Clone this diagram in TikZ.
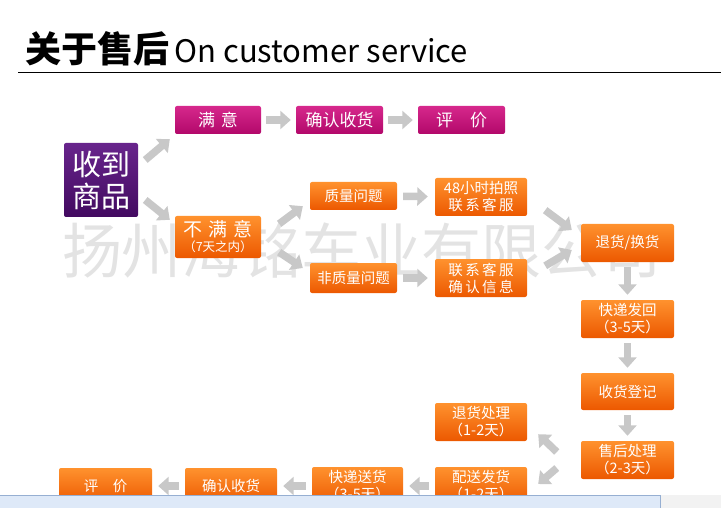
\documentclass[tikz,border=0pt]{standalone}
\usepackage{fontspec}
\setmainfont{Noto Sans CJK SC}
\usetikzlibrary{arrows.meta,calc}

\definecolor{orangeT}{RGB}{255,146,46}
\definecolor{orangeB}{RGB}{236,88,0}
\definecolor{roseT}{RGB}{214,40,140}
\definecolor{roseB}{RGB}{178,8,106}
\definecolor{plumT}{RGB}{104,36,140}
\definecolor{plumB}{RGB}{66,10,96}
\definecolor{arrowgray}{RGB}{200,200,200}
\definecolor{stripblue}{RGB}{222,233,248}
\definecolor{stripline}{RGB}{150,175,210}

\begin{document}
\begin{tikzpicture}[x=1pt, y=-1pt,
  box/.style={rounded corners=2pt, text=white, align=center, inner sep=0pt,
    font=\fontsize{14.5}{17}\selectfont},
  ob/.style={box, top color=orangeT, bottom color=orangeB,
    minimum width=92pt, minimum height=38pt},
  rb/.style={box, top color=roseT, bottom color=roseB,
    minimum width=87pt, minimum height=28pt, font=\fontsize{17}{20}\selectfont},
  blk/.style={draw=arrowgray, line width=7.5pt, -{Triangle[length=10.5pt,width=18pt]}}]
\useasboundingbox (0,0) rectangle (721,508);

% watermark behind everything
\node[text=black!11, font=\fontsize{60}{60}\selectfont] (mark) at (362,251) {扬州海铭车业有限公司};

% title
\node[anchor=base west, inner sep=0pt] (title) at (25,63)
  {\fontsize{36}{36}\selectfont\bfseries 关于售后\fontsize{31}{31}\selectfont\mdseries\,On customer service};
\draw[line width=1pt] (18,73) -- (721,73);

% start
\node[box, top color=plumT, bottom color=plumB, minimum size=74pt,
  font=\fontsize{29}{32}\selectfont] (recv) at (101,180) {收到\\商品};

% satisfied branch
\node[rb, minimum width=86pt] (man)   at (218,120)   {满\,\,意};
\node[rb] (okA)   at (339.5,120) {确认收货};
\node[rb] (rateA) at (461.5,120) {评\quad 价};

% unsatisfied branch
\node[ob, minimum width=86pt, minimum height=42pt] (unsat) at (218,237)
  {{\fontsize{19}{19}\selectfont 不\,\,满\,\,意}\\[-2pt]{\fontsize{12.5}{13}\selectfont （7天之内）}};
\node[ob, minimum width=87pt, minimum height=28pt] (qual) at (353.5,196) {质量问题};
\node[ob] (photo)   at (481,197) {48小时拍照\\联\,系\,客\,服};
\node[ob, minimum width=87pt, minimum height=30pt] (nonq) at (353.5,278) {非质量问题};
\node[ob] (confirm) at (481,278) {联\,系\,客\,服\\确\,认\,信\,息};

% right column
\node[ob, minimum width=93pt] (swap) at (627.5,243) {退货/换货};
\node[ob, minimum width=93pt] (ship) at (627.5,319) {快递发回\\（3-5天）};
\node[ob, minimum width=93pt, minimum height=37pt] (reg) at (627.5,391.5) {收货登记};
\node[ob, minimum width=93pt] (proc) at (627.5,460) {售后处理\\（2-3天）};

% return row
\node[ob] (refund) at (481,422) {退货处理\\（1-2天）};
\node[ob] (resend) at (481,486) {配送发货\\（1-2天）};
\node[ob, minimum width=91pt] (deliv) at (357.5,486) {快递送货\\（3-5天）};
\node[ob, minimum height=36pt] (okB)   at (231,486)   {确认收货};
\node[ob, minimum width=93pt, minimum height=36pt] (rateB) at (105.5,486) {评\quad 价};

% arrows
\draw[blk] ($(recv.east)+(7,-20)$) -- ($(man.south west)+(-5,5)$);
\draw[blk] ($(recv.east)+(7,20)$) -- ($(unsat.north west)+(-5,4)$);
\draw[blk, shorten <=5pt, shorten >=5pt] (man) -- (okA);
\draw[blk, shorten <=5pt, shorten >=5pt] (okA) -- (rateA);
\draw[blk] ($(unsat.north east)+(18,8)$) -- ($(qual.south west)+(-7,-4)$);
\draw[blk] ($(unsat.south east)+(18,-6)$) -- ($(nonq.west)+(-7,-10)$);
\draw[blk, shorten <=6pt, shorten >=7pt] (qual) -- (photo);
\draw[blk, shorten <=6pt, shorten >=7pt] (nonq) -- (confirm);
\draw[blk] ($(photo.south east)+(18,-6)$) -- ($(swap.west)+(-9,-13)$);
\draw[blk] ($(confirm.north east)+(18,7)$) -- ($(swap.west)+(-9,7)$);
\foreach \a/\b in {swap/ship,ship/reg,reg/proc}
  \draw[blk, shorten <=5pt, shorten >=5pt] (\a) -- (\b);
\draw[blk] ($(proc.west)+(-24,-8)$) -- ($(refund.south east)+(11,-7)$);
\draw[blk] ($(proc.west)+(-24,8)$) -- ($(resend.east)+(11,-2)$);
\foreach \a/\b in {resend/deliv,deliv/okB,okB/rateB}
  \draw[blk, shorten <=6pt, shorten >=6pt] (\a) -- (\b);

% window strip at the bottom
\fill[stripblue] (0,495) rectangle (660,508);
\draw[stripline] (0,495.5) -- (660,495.5) -- (660,508);
\fill[black!5] (660.5,495) rectangle (721,508);
\end{tikzpicture}
\end{document}
